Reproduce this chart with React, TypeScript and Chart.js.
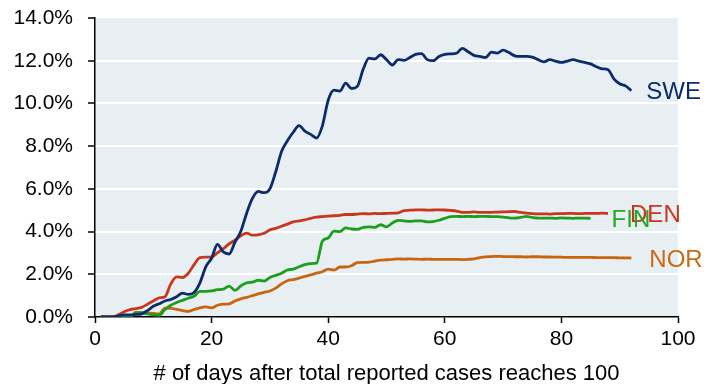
import React, { useEffect, useRef } from "react";
import { Chart, registerables } from "chart.js";

Chart.register(...registerables);

const days = [
  1, 2, 3, 4, 5, 6, 7, 8, 9, 10, 11, 12, 13, 14, 15, 16, 17, 18, 19, 20,
  21, 22, 23, 24, 25, 26, 27, 28, 29, 30, 31, 32, 33, 34, 35, 36, 37, 38, 39, 40,
  41, 42, 43, 44, 45, 46, 47, 48, 49, 50, 51, 52, 53, 54, 55, 56, 57, 58, 59, 60,
  61, 62, 63, 64, 65, 66, 67, 68, 69, 70, 71, 72, 73, 74, 75, 76, 77, 78, 79, 80,
  81, 82, 83, 84, 85, 86, 87, 88, 89, 90, 91, 92,
];

const seriesNames = ["SWE", "DEN", "FIN", "NOR"];

const sweValues = [
  0, 0, 0, 0.05, 0.1, 0.1, 0.12, 0.15, 0.3, 0.5,
  0.62, 0.75, 0.82, 0.95, 1.12, 1.06, 1.15, 1.6, 2.35, 2.75,
  3.4, 3.05, 2.95, 3.5, 4.0, 4.85, 5.55, 5.88, 5.82, 6.0,
  6.8, 7.75, 8.25, 8.65, 8.96, 8.7, 8.55, 8.38, 8.95, 10.15,
  10.62, 10.58, 10.95, 10.7, 10.8, 11.6, 12.12, 12.08, 12.28, 12.05,
  11.8, 12.05, 12.02, 12.15, 12.3, 12.33, 12.05, 12.0, 12.2, 12.3,
  12.32, 12.35, 12.58, 12.42, 12.25, 12.2, 12.15, 12.4, 12.36, 12.5,
  12.38, 12.23, 12.2, 12.2, 12.17, 12.05, 11.95, 12.05, 11.98, 11.92,
  11.98, 12.05, 11.98, 11.92, 11.85, 11.72, 11.62, 11.58, 11.15, 10.92,
  10.82, 10.6,
];

const denValues = [
  0, 0, 0, 0.1, 0.25, 0.35, 0.39, 0.45, 0.6, 0.75,
  0.9, 0.95, 1.55, 1.88, 1.85, 2.05, 2.45, 2.78, 2.8, 2.82,
  3.0, 3.2, 3.42, 3.6, 3.8, 3.93, 3.83, 3.85, 3.92, 4.08,
  4.15, 4.25, 4.35, 4.45, 4.5, 4.55, 4.62, 4.68, 4.7, 4.72,
  4.74, 4.76, 4.8, 4.8, 4.82, 4.84, 4.83, 4.85, 4.84, 4.85,
  4.86, 4.88, 4.98, 5.0, 5.02, 5.02, 5.0, 5.01, 5.02, 5.01,
  4.99, 4.96, 4.9, 4.9, 4.92, 4.9, 4.9, 4.9, 4.91, 4.92,
  4.93, 4.94, 4.9, 4.86, 4.84, 4.83, 4.83, 4.82, 4.84, 4.84,
  4.85, 4.85, 4.84, 4.85, 4.85, 4.85, 4.86, 4.85,
];

const finValues = [
  0, 0, 0, 0, 0, 0, 0.2, 0.2, 0.15, 0.1,
  0.08, 0.35, 0.55, 0.68, 0.78, 0.88, 0.97, 1.2, 1.2, 1.22,
  1.28, 1.3, 1.45, 1.25, 1.45, 1.6, 1.63, 1.72, 1.68, 1.85,
  1.95, 2.05, 2.2, 2.24, 2.35, 2.45, 2.5, 2.52, 3.55, 3.7,
  4.02, 4.0, 4.17, 4.12, 4.1, 4.2, 4.22, 4.2, 4.32, 4.22,
  4.4, 4.52, 4.5, 4.48, 4.5, 4.5, 4.45, 4.47, 4.53, 4.62,
  4.7, 4.71, 4.7, 4.71, 4.7, 4.71, 4.71, 4.7, 4.7, 4.68,
  4.64, 4.63, 4.66, 4.71, 4.66, 4.63, 4.63, 4.63, 4.62, 4.64,
  4.63, 4.62, 4.63, 4.63, 4.62,
];

const norValues = [
  0, 0, 0, 0, 0, 0, 0.22, 0.2, 0.18, 0.17,
  0.15, 0.42, 0.4, 0.36, 0.3, 0.26, 0.35, 0.43, 0.47, 0.43,
  0.55, 0.6, 0.62, 0.75, 0.85, 0.92, 1.0, 1.08, 1.15, 1.22,
  1.35, 1.55, 1.7, 1.75, 1.82, 1.9, 1.97, 2.05, 2.12, 2.24,
  2.2, 2.34, 2.34, 2.4, 2.55, 2.56, 2.57, 2.62, 2.66, 2.68,
  2.7, 2.72, 2.71, 2.72, 2.71, 2.7, 2.71, 2.7, 2.7, 2.7,
  2.7, 2.7, 2.69, 2.7, 2.72, 2.78, 2.82, 2.83, 2.84, 2.83,
  2.83, 2.82, 2.82, 2.81, 2.82, 2.82, 2.81, 2.81, 2.8, 2.8,
  2.79, 2.79, 2.79, 2.79, 2.79, 2.78, 2.78, 2.78, 2.78, 2.77,
  2.77, 2.76,
];

const xTicks = [0, 20, 40, 60, 80, 100];
const yTicks = [0, 2, 4, 6, 8, 10, 12, 14];
const xTitle = "# of days after total reported cases reaches 100";

const allValues = [sweValues, denValues, finValues, norValues];
const lineColors = ["#0c2b6b", "#c9361d", "#1c9e1c", "#c8650f"];
const labelColors = ["#0c2b6b", "#c9361d", "#22a822", "#c96a17"];
const labelGaps = [15, 22, 21, 18];

const FONT = "'Liberation Sans', Arial, sans-serif";

const bgPlugin = {
  id: "plotBg",
  beforeDraw(chart: any) {
    const { ctx, chartArea } = chart;
    ctx.save();
    ctx.fillStyle = "#e7eff2";
    ctx.fillRect(chartArea.left, chartArea.top, chartArea.right - chartArea.left, chartArea.bottom - chartArea.top);
    ctx.restore();
  },
};

const endLabelPlugin = {
  id: "endLabels",
  afterDatasetsDraw(chart: any) {
    const { ctx } = chart;
    ctx.save();
    ctx.font = `24px ${FONT}`;
    ctx.textAlign = "left";
    ctx.textBaseline = "middle";
    chart.data.datasets.forEach((ds: any, i: number) => {
      const meta = chart.getDatasetMeta(i);
      const pt = meta.data[meta.data.length - 1];
      if (!pt) return;
      ctx.fillStyle = labelColors[i];
      ctx.fillText(seriesNames[i], pt.x + labelGaps[i], pt.y + 2);
    });
    ctx.restore();
  },
};

export default function App() {
  const ref = useRef<HTMLCanvasElement | null>(null);
  useEffect(() => {
    document.body.style.margin = "0";
    const canvas = ref.current;
    if (!canvas) return;
    const datasets = allValues.map((vals, i) => ({
      label: seriesNames[i],
      data: vals.map((v, j) => ({ x: days[j], y: v })),
      borderColor: lineColors[i],
      backgroundColor: lineColors[i],
      borderWidth: 2.8,
      pointRadius: 0,
      fill: false,
      cubicInterpolationMode: "monotone" as const,
    }));
    const chart = new Chart(canvas, {
      type: "line",
      data: { datasets },
      plugins: [bgPlugin, endLabelPlugin],
      options: {
        animation: false,
        responsive: false,
        layout: { padding: { top: 18, right: 39, bottom: 0, left: 0 } },
        plugins: { legend: { display: false }, tooltip: { enabled: false } },
        scales: {
          x: {
            type: "linear",
            min: 0,
            max: 100,
            afterBuildTicks(scale: any) {
              scale.ticks = xTicks.map((v) => ({ value: v }));
            },
            afterFit(scale: any) {
              scale.height = 67;
              scale.paddingLeft = 0;
              scale.paddingRight = 0;
            },
            grid: {
              drawOnChartArea: false,
              drawTicks: true,
              tickLength: 6,
              tickColor: "#000",
              tickWidth: 1.5,
            },
            border: { color: "#000", width: 1.5 },
            ticks: {
              color: "#000",
              font: { family: FONT, size: 21 },
              padding: 4,
              maxRotation: 0,
            },
            title: {
              display: true,
              text: xTitle,
              color: "#000",
              font: { family: FONT, size: 22 },
              padding: { top: 0, bottom: -3 },
            },
          },
          y: {
            type: "linear",
            min: 0,
            max: 14,
            afterBuildTicks(scale: any) {
              scale.ticks = yTicks.map((v) => ({ value: v }));
            },
            afterFit(scale: any) {
              scale.width = 95;
              scale.paddingTop = 0;
              scale.paddingBottom = 0;
            },
            grid: {
              color: (c: any) => (c.tick && (c.tick.value === 0 || c.tick.value === 14) ? "rgba(0,0,0,0)" : "#ffffff"),
              lineWidth: 2,
              drawTicks: true,
              tickLength: 7,
              tickColor: "#000",
              tickWidth: 1.5,
            },
            border: { color: "#000", width: 1.5 },
            ticks: {
              color: "#000",
              font: { family: FONT, size: 21 },
              padding: 15,
              callback: (v: any) => Number(v).toFixed(1) + "%",
            },
          },
        },
      },
    });
    return () => chart.destroy();
  }, []);
  return <canvas ref={ref} width={717} height={384} style={{ display: "block", width: 717, height: 384 }} />;
}
